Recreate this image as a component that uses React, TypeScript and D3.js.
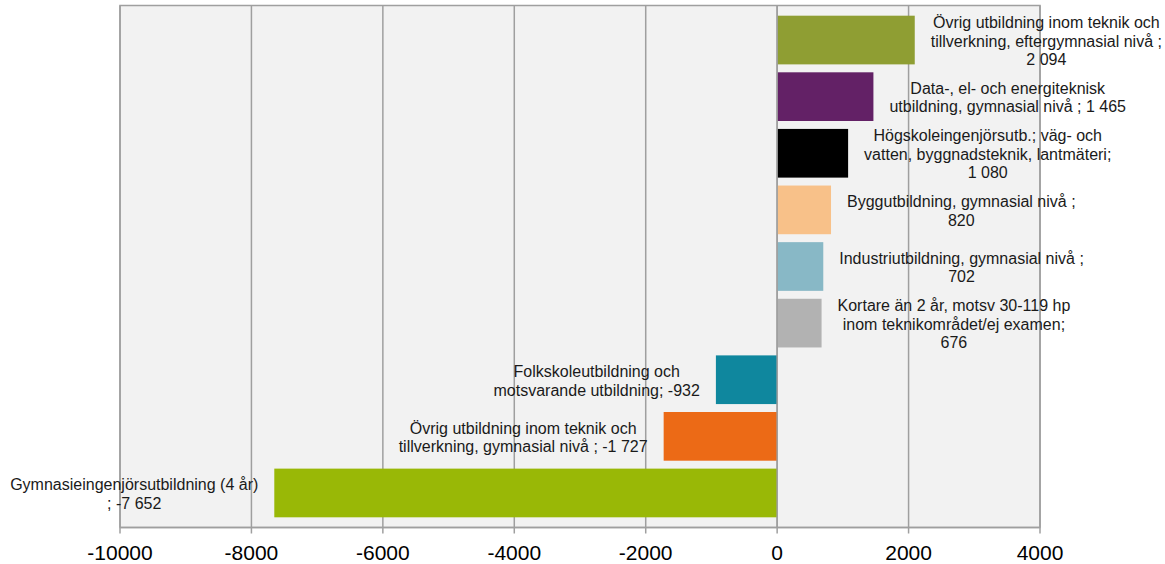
import React from "react";
import * as d3 from "d3";

// Change in number of employed, by education (negative = decrease)
const categories = [
  "Övrig utbildning inom teknik och tillverkning, eftergymnasial nivå",
  "Data-, el- och energiteknisk utbildning, gymnasial nivå",
  "Högskoleingenjörsutb.; väg- och vatten, byggnadsteknik, lantmäteri",
  "Byggutbildning, gymnasial nivå",
  "Industriutbildning, gymnasial nivå",
  "Kortare än 2 år, motsv 30-119 hp inom teknikområdet/ej examen",
  "Folkskoleutbildning och motsvarande utbildning",
  "Övrig utbildning inom teknik och tillverkning, gymnasial nivå",
  "Gymnasieingenjörsutbildning (4 år)",
];

const values = [2094, 1465, 1080, 820, 702, 676, -932, -1727, -7652];

// Separator between category name and value in each data label
const separators = [" ; ", " ; ", "; ", " ; ", " ; ", "; ", "; ", " ; ", " ; "];

const colors = [
  "#8f9e33",
  "#632166",
  "#000000",
  "#f8c189",
  "#88b8c6",
  "#b2b2b2",
  "#0f879e",
  "#ec6a16",
  "#99b806",
];

const xTicks = [-10000, -8000, -6000, -4000, -2000, 0, 2000, 4000];

const W = 1165;
const H = 564;
const plot = { left: 120, right: 1040, top: 5.5, bottom: 527.5 };

const FONT = "'Liberation Sans', Arial, sans-serif";
const LABEL_SIZE = 16;
const LINE_H = 18.4;
const WRAP_MAX = 253;
const LABEL_GAP = 16;

const sv = d3.formatLocale({
  decimal: ",",
  thousands: "\u00a0",
  grouping: [3],
  currency: ["", " kr"],
  minus: "-",
});
const fmt = sv.format(",d");

let ctx: CanvasRenderingContext2D | null = null;
function measure(s: string): number {
  if (!ctx) {
    const c = document.createElement("canvas");
    ctx = c.getContext("2d");
  }
  if (!ctx) return s.length * 8;
  ctx.font = `${LABEL_SIZE}px 'Liberation Sans', Arial, sans-serif`;
  return ctx.measureText(s).width;
}

function wrap(text: string): string[] {
  const words = text.split(" ");
  const lines: string[] = [];
  let cur = "";
  for (const w of words) {
    const next = cur ? cur + " " + w : w;
    if (cur && measure(next) > WRAP_MAX) {
      lines.push(cur);
      cur = w;
    } else {
      cur = next;
    }
  }
  if (cur) lines.push(cur);
  return lines;
}

export default function App() {
  const x = d3.scaleLinear().domain([-10000, 4000]).range([plot.left, plot.right]);
  const y = d3
    .scaleBand<string>()
    .domain(categories)
    .range([plot.top, plot.bottom])
    .paddingInner(0.14)
    .paddingOuter(0.18);

  const x0 = x(0);
  const grid = "#9f9f9f";

  return (
    <>
      <style>{"body{margin:0}"}</style>
      <svg width={W} height={H} style={{ display: "block" }} fontFamily={FONT}>
        <rect x={0} y={0} width={W} height={H} fill="#ffffff" />
        <rect
          x={plot.left}
          y={plot.top}
          width={plot.right - plot.left}
          height={plot.bottom - plot.top}
          fill="#f2f2f2"
        />
        {/* vertical gridlines */}
        {xTicks.map((t) => (
          <line
            key={"g" + t}
            x1={x(t)}
            x2={x(t)}
            y1={plot.top}
            y2={plot.bottom}
            stroke={grid}
            strokeWidth={1.5}
          />
        ))}
        {/* plot frame */}
        <rect
          x={plot.left}
          y={plot.top}
          width={plot.right - plot.left}
          height={plot.bottom - plot.top}
          fill="none"
          stroke={grid}
          strokeWidth={1.5}
        />
        {/* bars */}
        {categories.map((c, i) => {
          const v = values[i];
          const y0 = y(c)!;
          return (
            <rect
              key={"b" + i}
              x={Math.min(x(v), x0)}
              y={y0}
              width={Math.abs(x(v) - x0)}
              height={y.bandwidth()}
              fill={colors[i]}
            />
          );
        })}
        {/* category axis at zero */}
        <line x1={x0} x2={x0} y1={plot.top} y2={plot.bottom} stroke={grid} strokeWidth={1.5} />
        {/* value axis */}
        <line
          x1={plot.left}
          x2={plot.right}
          y1={plot.bottom}
          y2={plot.bottom}
          stroke={grid}
          strokeWidth={1.5}
        />
        {xTicks.map((t) => (
          <g key={"t" + t}>
            <line
              x1={x(t)}
              x2={x(t)}
              y1={plot.bottom}
              y2={plot.bottom + 6}
              stroke={grid}
              strokeWidth={1.5}
            />
            <text x={x(t)} y={560} textAnchor="middle" fontSize={21} fill="#000">
              {String(t)}
            </text>
          </g>
        ))}
        {/* data labels */}
        {categories.map((c, i) => {
          const v = values[i];
          const lines = wrap(c + separators[i] + fmt(v));
          const maxW = d3.max(lines, (l) => measure(l)) ?? 0;
          const end = x(v);
          const cx = v >= 0 ? end + LABEL_GAP + maxW / 2 : end - LABEL_GAP - maxW / 2;
          const yc = y(c)! + y.bandwidth() / 2 + 1;
          const n = lines.length;
          return (
            <text key={"l" + i} textAnchor="middle" fontSize={LABEL_SIZE} fill="#1a1a1a">
              {lines.map((l, k) => (
                <tspan key={k} x={cx} y={yc + (k - (n - 1) / 2) * LINE_H + 5.6}>
                  {l}
                </tspan>
              ))}
            </text>
          );
        })}
      </svg>
    </>
  );
}
